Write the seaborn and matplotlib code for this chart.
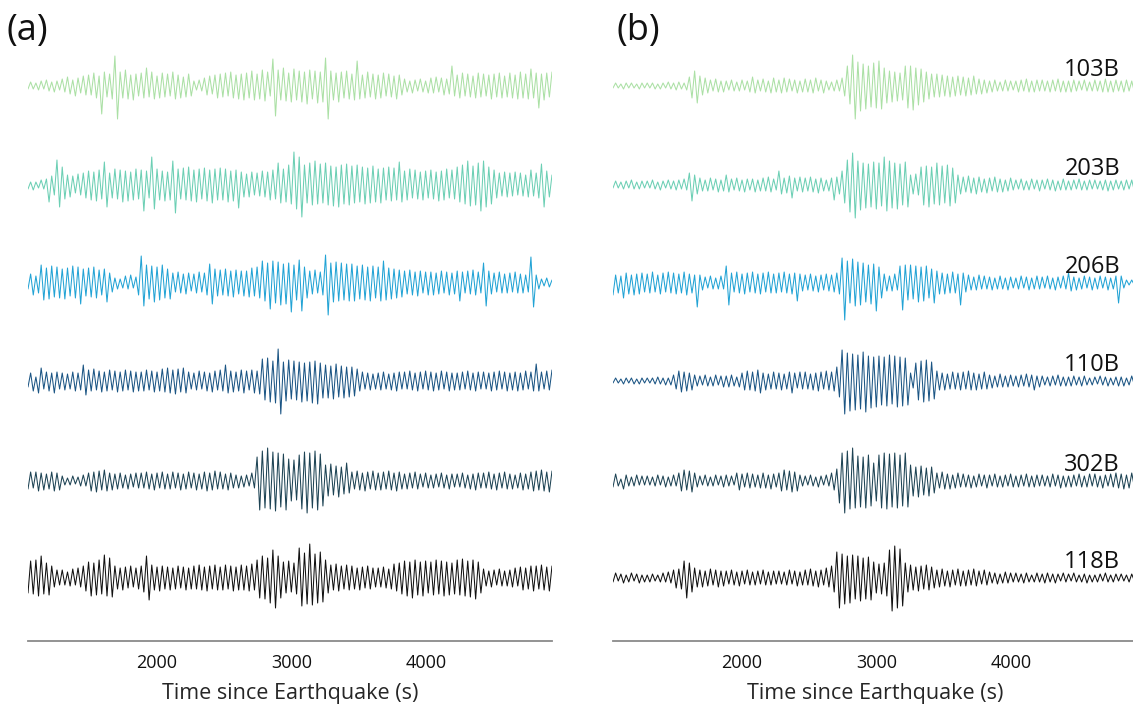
import numpy as np
import pandas as pd
import matplotlib
matplotlib.use("Agg")
import matplotlib.pyplot as plt
import seaborn as sns

# ---------------- data ----------------
T_START, T_END = 1041, 4937          # time span of every trace (s)
XTICKS = [2000, 3000, 4000]
XLABEL = "Time since Earthquake (s)"
PANEL_TITLES = ["(a)", "(b)"]
STATIONS = ["103B", "203B", "206B", "110B", "302B", "118B"]
COLORS = ["#abe0a5", "#6ccfb4", "#22a3d5", "#1b5584", "#1d4354", "#111111"]
OFFSETS = [555, 456, 358, 260, 160, 63]   # trace baselines (stacking)

# successive peak / trough amplitudes of each trace (panel a)
A1 = [-3,4,-3, 3,-4,5,-3,6,-5,4,-6,5,-4, 7,-6,9,-8,6,-10,8,-7,10,-9, 11,-9,13,-12,10,-28,14,-11,12,-13,
      30,-33,14,-12,16,-13,11,-14,12,-10, 13,-12,18,-11,14,-13,10,-12,13,-11, 12,-10,14,-13,11,-12,9,-11,12,-10,
      5,-4,6,-5,8,-9,10,-8,11,-12, 12,-11,13,-10,14,-12,11,-13,12,-14, 13,-12,15,-14,12,-13,16,-15,14,-10,
      27,-30,16,-14,18,-15,13,-16,17,-14, 15,-16,14,-18,16,-13,15,-17,14,-16, 28,-33,15,-14,13,-16,14,-12,15,-13,
      12,-14,25,-13,11,-12,14,-11,12,-13, 11,-12,13,-10,12,-11,10,-13,11,-9, 7,-6,5,-7,6,-5,7,-6,5,-7,
      8,-7,9,-6,8,-9,7,-8,20,-10, 11,-12,13,-10,12,-11,10,-12,13,-11, 12,-10,11,-13,12,-11,13,-12,10,-11,
      13,-12,11,-13,14,-12,12,-13,17,-12, 13,-22,12,-14,13,-11,14]
A2 = [-4,3,-5, 3,-3,5,-4,6,-17,9,-10,25,-22, 18,-14,10,-12,9,-8,11,-10,12,-13, 14,-15,13,-16,15,-14,23,-22,12,-13,
      16,-14,15,-17,14,-16,13,-15,16,-14, 15,-26,14,-13,28,-24,16,-15,14,-16, 13,-15,24,-28,16,-14,17,-15,18,-16,
      15,-17,16,-14,17,-16,15,-18,16,-15, 17,-15,16,-17,14,-16,15,-23,13,-12, 11,-12,13,-10,12,-11,14,-12,13,-15,
      15,-14,22,-18,16,-17,20,-19,33,-24, 28,-32,20,-18,22,-20,24,-19,21,-18, 22,-20,19,-21,18,-22,20,-19,21,-20,
      19,-18,20,-17,18,-19,17,-18,19,-17, 16,-18,17,-15,18,-16,17,-15,23,-17, 14,-15,16,-13,15,-14,13,-15,14,-13,
      15,-14,13,-16,14,-15,16,-13,15,-14, 18,-17,20,-19,24,-21,19,-20,22,-26, 24,-22,18,-19,15,-13,12,-11,13,-12,
      12,-11,13,-10,12,-11,10,-12,15,-11, 12,-13,21,-22,14,-12,10]
A3 = [-6,9,-12, 7,-10,18,-17,15,-16,17,-14,16,-15, 14,-16,15,-13,17,-15,16,-21,14,-13, 15,-14,16,-15,13,-12,14,-19,10,-9,
      5,-6,4,-5,7,-6,8,-5,6,-12, 27,-23,18,-16,17,-19,16,-17,18,-15, 14,-16,10,-9,11,-10,9,-11,10,-8,
      9,-10,11,-9,10,-12,19,-21,14,-13, 13,-12,14,-13,12,-14,13,-11,12,-13, 12,-14,15,-13,16,-15,22,-18,20,-26,
      22,-20,21,-22,19,-21,20,-29,18,-17, 23,-28,16,-15,12,-11,13,-10,11,-12, 28,-32,20,-19,21,-18,20,-17,19,-18,
      19,-18,17,-16,18,-17,16,-18,17,-15, 16,-18,22,-17,15,-16,14,-15,13,-14, 12,-11,13,-12,11,-13,12,-10,11,-12,
      11,-12,10,-11,12,-10,11,-12,10,-11, 12,-18,11,-10,12,-11,13,-12,11,-10, 20,-23,12,-11,10,-9,11,-10,9,-10,
      10,-9,11,-10,9,-10,8,-9,26,-24, 8,-6,4,-3,5,-4,3]
A4 = [-6,8,-10, 4,-12,13,-8,9,-10,8,-12,9,-8, 8,-9,7,-8,9,-10,8,-9,16,-14, 11,-10,12,-9,10,-11,9,-10,11,-9,
      10,-11,9,-10,11,-9,10,-11,9,-10, 9,-10,11,-9,10,-11,9,-10,12,-11, 13,-12,11,-13,12,-11,13,-12,9,-8,
      8,-9,10,-8,9,-10,8,-11,10,-9, 11,-10,16,-12,10,-11,9,-10,11,-12, 10,-9,11,-12,10,-13,22,-19,23,-21,
      20,-22,32,-33,19,-20,21,-18,20,-19, 19,-21,18,-20,19,-22,20,-23,18,-17, 16,-17,15,-18,17,-16,15,-17,14,-16,
      14,-15,12,-10,9,-8,8,-9,7,-8, 8,-9,9,-8,7,-9,8,-10,9,-8, 9,-8,10,-9,8,-10,9,-8,10,-9,
      9,-10,8,-9,10,-8,9,-10,8,-9, 8,-9,9,-8,10,-9,8,-10,9,-8, 9,-8,8,-10,9,-9,10,-8,9,-10,
      8,-9,9,-10,8,-9,10,-8,9,-10, 17,-10,9,-8,10,-9,11]
A5 = [-8,9,-7, 9,-10,8,-9,7,-8,9,-10,8,-9, 5,-4,3,-4,5,-3,4,-5,6,-5, 8,-10,9,-11,10,-9,11,-10,8,-9,
      7,-8,8,-7,6,-8,7,-6,8,-7, 8,-7,9,-8,7,-9,8,-7,9,-8, 7,-8,9,-7,8,-9,7,-8,9,-7,
      8,-9,7,-8,9,-10,8,-9,10,-8, 9,-8,7,-9,8,-7,6,-7,5,-6, 6,-5,8,-7,24,-29,30,-27,33,-28,
      29,-30,28,-26,27,-29,22,-20,21,-19, 26,-28,29,-32,28,-27,30,-29,27,-25, 16,-15,17,-14,15,-16,14,-13,18,-12,
      9,-8,10,-9,8,-10,9,-8,10,-9, 8,-9,9,-8,10,-9,8,-10,9,-8, 7,-8,8,-7,9,-8,7,-6,8,-7,
      6,-7,7,-6,8,-7,6,-8,7,-6, 7,-6,8,-7,6,-8,7,-9,8,-7, 8,-7,9,-8,7,-9,8,-7,9,-8,
      7,-8,6,-7,8,-9,7,-8,9,-10, 10,-9,11,-10,9,-11,10]
A6 = [-15,17,-16, 18,-18,22,-16,15,-17,12,-9,8,-7, 8,-7,6,-8,9,-7,10,-9,12,-13, 16,-18,15,-17,18,-16,23,-18,20,-19,
      12,-11,10,-12,11,-10,12,-9,10,-11, 12,-14,22,-22,13,-12,11,-13,12,-11, 11,-12,10,-11,12,-10,11,-12,10,-11,
      12,-11,13,-12,11,-13,12,-11,13,-12, 11,-12,13,-11,12,-13,11,-12,13,-12, 12,-13,14,-12,18,-20,22,-21,20,-25,
      28,-30,22,-20,16,-15,17,-14,15,-16, 30,-28,25,-26,34,-27,24,-25,26,-24, 18,-15,13,-12,14,-13,12,-11,13,-12,
      12,-11,10,-12,11,-10,12,-11,10,-9, 10,-9,11,-10,9,-11,14,-13,15,-16, 17,-18,16,-20,18,-17,16,-18,17,-15,
      16,-17,18,-16,17,-18,16,-17,15,-16, 18,-17,19,-18,17,-19,18,-21,16,-15, 9,-8,7,-9,8,-7,9,-8,7,-8,
      8,-9,10,-8,11,-12,10,-11,12,-13, 12,-11,13,-12,11,-13,12]

# successive peak / trough amplitudes of each trace (panel b)
B1 = [-2,3,-2, 2,-3,3,-2,3,-2,2,-3,3,-2, 3,-2,3,-3,2,-3,3,-2,4,-3, 3,-4,4,-3,3,-4,9,-12,15,-17,
      10,-9,8,-7,6,-5,7,-6,5,-6, 5,-4,6,-5,4,-5,6,-4,5,-6, 9,-7,6,-5,7,-6,5,-7,8,-6,
      6,-7,8,-6,7,-5,6,-7,5,-6, 7,-6,6,-7,8,-5,6,-7,5,-4, 4,-5,6,-5,8,-10,20,-18,31,-33,
      24,-25,22,-23,20,-21,23,-22,25,-23, 18,-17,15,-16,14,-15,13,-14,20,-22, 20,-24,18,-19,17,-16,14,-13,12,-11,
      12,-11,11,-10,10,-11,9,-10,10,-9, 9,-10,8,-9,10,-8,7,-8,6,-7, 5,-6,6,-5,4,-5,6,-5,5,-4,
      5,-6,6,-5,7,-6,5,-6,6,-5, 6,-5,5,-6,6,-5,7,-6,5,-6, 5,-6,6,-5,5,-4,6,-5,4,-5,
      6,-5,5,-6,7,-6,5,-6,6,-5, 5,-6,6,-5,5,-6,4]
B2 = [-3,4,-3, 3,-4,4,-3,5,-4,3,-4,4,-3, 4,-3,5,-4,3,-5,4,-3,5,-4, 4,-5,5,-4,6,-5,12,-16,10,-9,
      7,-6,5,-6,7,-5,6,-7,5,-6, 10,-7,6,-5,7,-6,5,-7,6,-5, 6,-7,5,-6,7,-6,8,-7,6,-5,
      14,-9,7,-8,9,-13,7,-6,8,-7, 7,-6,8,-7,6,-8,7,-6,5,-6, 7,-15,8,-9,14,-18,25,-27,32,-33,
      24,-25,22,-23,21,-22,23,-24,22,-21, 28,-26,24,-23,22,-24,21,-20,23,-22, 10,-9,11,-10,18,-20,19,-22,18,-19,
      22,-20,19,-18,20,-21,17,-18,10,-9, 8,-7,9,-8,7,-9,8,-7,6,-8, 7,-6,8,-7,6,-7,5,-6,7,-5,
      5,-4,6,-5,4,-5,6,-4,5,-6, 5,-4,6,-5,5,-6,4,-5,6,-5, 4,-5,5,-4,6,-5,4,-5,5,-4,
      5,-4,4,-5,5,-6,4,-5,5,-4, 4,-5,5,-4,5,-6,4]
B3 = [-12,8,-10, 7,-15,10,-11,8,-12,9,-11,10,-9, 9,-10,11,-9,8,-11,10,-9,11,-10, 10,-11,9,-10,11,-12,9,-10,8,-24,
      8,-7,6,-5,7,-6,5,-6,7,-6, 17,-22,10,-9,11,-10,9,-11,10,-9, 11,-10,9,-11,10,-9,11,-10,9,-10,
      10,-9,11,-10,9,-11,10,-18,9,-8, 8,-7,9,-8,7,-9,8,-7,9,-8, 8,-9,10,-11,25,-37,22,-20,24,-23,
      21,-22,20,-19,18,-21,19,-28,16,-15, 9,-8,7,-8,9,-7,17,-27,18,-17, 18,-16,17,-19,16,-18,17,-15,14,-20,
      12,-11,10,-11,9,-10,11,-10,9,-22, 10,-9,8,-7,6,-7,8,-6,7,-6, 6,-7,5,-6,7,-6,5,-7,6,-5,
      5,-6,7,-5,6,-7,5,-6,7,-6, 6,-5,7,-6,5,-7,6,-5,7,-6, 10,-8,6,-7,5,-6,7,-5,6,-7,
      5,-6,7,-5,6,-7,5,-6,7,-20, 7,-5,3,-2,3,-2,3]
B4 = [-2,3,-2, 2,-3,3,-2,3,-3,2,-3,3,-2, 3,-2,3,-3,4,-3,3,-4,3,-4, 6,-8,10,-11,9,-10,8,-9,6,-5,
      5,-4,6,-5,4,-5,6,-4,5,-6, 5,-6,6,-5,4,-6,8,-9,10,-9, 9,-10,11,-12,8,-9,7,-8,9,-8,
      8,-9,7,-8,9,-12,8,-7,9,-8, 9,-8,7,-9,8,-10,9,-8,10,-9, 9,-10,14,-16,31,-33,28,-30,27,-29,
      26,-28,29,-31,25,-27,24,-26,25,-24, 24,-25,26,-23,25,-26,24,-25,23,-24, 8,-7,18,-19,20,-21,21,-20,19,-18,
      10,-9,8,-9,7,-8,9,-8,8,-9, 9,-8,10,-9,8,-9,7,-8,9,-8, 6,-7,5,-6,7,-6,5,-6,6,-5,
      5,-6,6,-5,7,-6,6,-9,5,-6, 5,-4,4,-5,5,-4,6,-5,4,-5, 4,-5,5,-4,4,-5,5,-4,3,-4,
      4,-3,5,-4,4,-5,3,-4,4,-5, 4,-5,3,-4,5,-4,4]
B5 = [-6,7,-5, 2,-8,6,-5,4,-5,6,-4,5,-4, 5,-4,4,-5,6,-4,5,-6,4,-5, 6,-5,8,-10,11,-9,10,-11,8,-6,
      5,-4,6,-5,4,-5,6,-4,5,-6, 6,-5,5,-4,8,-9,7,-6,8,-7, 7,-6,6,-7,8,-7,6,-8,7,-6,
      8,-10,11,-9,10,-11,9,-10,6,-5, 5,-4,6,-5,4,-6,5,-4,6,-5, 8,-9,12,-22,28,-32,30,-28,33,-27,
      25,-26,24,-27,26,-25,18,-20,26,-27, 28,-28,27,-26,28,-27,26,-25,28,-26, 16,-15,14,-16,15,-14,13,-15,14,-12,
      8,-7,9,-8,7,-8,6,-7,8,-6, 7,-6,6,-7,5,-6,7,-5,6,-7, 6,-5,7,-6,5,-6,6,-5,7,-6,
      5,-6,6,-5,7,-6,5,-6,6,-5, 6,-5,5,-6,7,-5,6,-7,5,-6, 5,-6,6,-5,7,-6,5,-6,7,-5,
      7,-6,5,-7,6,-5,7,-6,8,-7, 7,-8,6,-7,8,-6,7]
B6 = [-4,5,-3, 4,-5,3,-4,5,-3,4,-5,3,-4, 3,-4,4,-3,3,-4,5,-4,6,-5, 8,-10,9,-11,17,-20,15,-14,10,-9,
      8,-9,7,-8,9,-7,8,-9,7,-8, 7,-6,8,-7,6,-8,7,-6,8,-7, 6,-7,7,-6,8,-7,6,-7,7,-6,
      7,-6,6,-7,8,-6,7,-8,6,-7, 8,-7,9,-8,7,-9,8,-7,10,-9, 12,-14,26,-30,24,-26,22,-25,23,-21,
      22,-23,20,-21,21,-22,16,-15,14,-16, 15,-18,28,-33,32,-30,29,-28,15,-14, 13,-12,11,-13,12,-11,13,-12,11,-10,
      8,-9,9,-8,7,-9,8,-7,9,-8, 7,-8,8,-7,9,-8,7,-6,8,-7, 6,-5,5,-6,4,-5,6,-5,5,-4,
      5,-4,4,-5,5,-4,3,-4,5,-4, 4,-5,5,-4,4,-5,4,-3,5,-4, 4,-3,5,-4,3,-4,4,-5,3,-4,
      3,-4,4,-3,5,-4,3,-4,4,-3, 4,-3,3,-4,4,-3,5]

PANEL_A = [A1, A2, A3, A4, A5, A6]
PANEL_B = [B1, B2, B3, B4, B5, B6]

# ---------------- build tidy tables ----------------
def build(traces):
    frames = []
    for name, amp, off in zip(STATIONS, traces, OFFSETS):
        amp = np.asarray(amp, dtype=float)
        t = np.linspace(T_START, T_END, len(amp))
        frames.append(pd.DataFrame({"time": t, "signal": amp + off, "station": name}))
    return pd.concat(frames, ignore_index=True)

df_a = build(PANEL_A)
df_b = build(PANEL_B)

# ---------------- draw ----------------
sns.set_style("white")
plt.rcParams["font.family"] = ["Open Sans", "DejaVu Sans"]

W, H = 1133, 706
fig = plt.figure(figsize=(W / 100, H / 100), dpi=100)
ax_w = 524 / W
bottom = 65 / H
height = 601 / H
ax_a = fig.add_axes([28 / W, bottom, ax_w, height])
ax_b = fig.add_axes([613 / W, bottom, ax_w, height])

palette = dict(zip(STATIONS, COLORS))
GRAY = "#8a8a8a"
for ax, df, title, tx in [(ax_a, df_a, PANEL_TITLES[0], 7), (ax_b, df_b, PANEL_TITLES[1], 617)]:
    sns.lineplot(data=df, x="time", y="signal", hue="station", palette=palette,
                 estimator=None, sort=False, legend=False, linewidth=0.75, ax=ax)
    ax.set_xlim(T_START, T_END)
    ax.set_ylim(0, 601)
    ax.set_yticks([])
    ax.set_xticks(XTICKS)
    ax.set_xticklabels([str(v) for v in XTICKS])
    ax.set_ylabel("")
    ax.set_xlabel(XLABEL, fontsize=15.5, labelpad=8)
    for s in ["left", "top", "right"]:
        ax.spines[s].set_visible(False)
    ax.spines["bottom"].set_color(GRAY)
    ax.spines["bottom"].set_linewidth(1.3)
    ax.tick_params(axis="x", direction="in", length=7, width=1.1, color=GRAY,
                   labelsize=13, pad=9, labelcolor="#111111")
    fig.text(tx / W, 1 - 13 / H, title, fontsize=26, ha="left", va="top", color="#111111")

for name, off in zip(STATIONS, OFFSETS):
    ax_b.text(4811, off + 16, name, ha="right", va="center", fontsize=17, color="#111111")

fig.savefig("out.png", dpi=100)
